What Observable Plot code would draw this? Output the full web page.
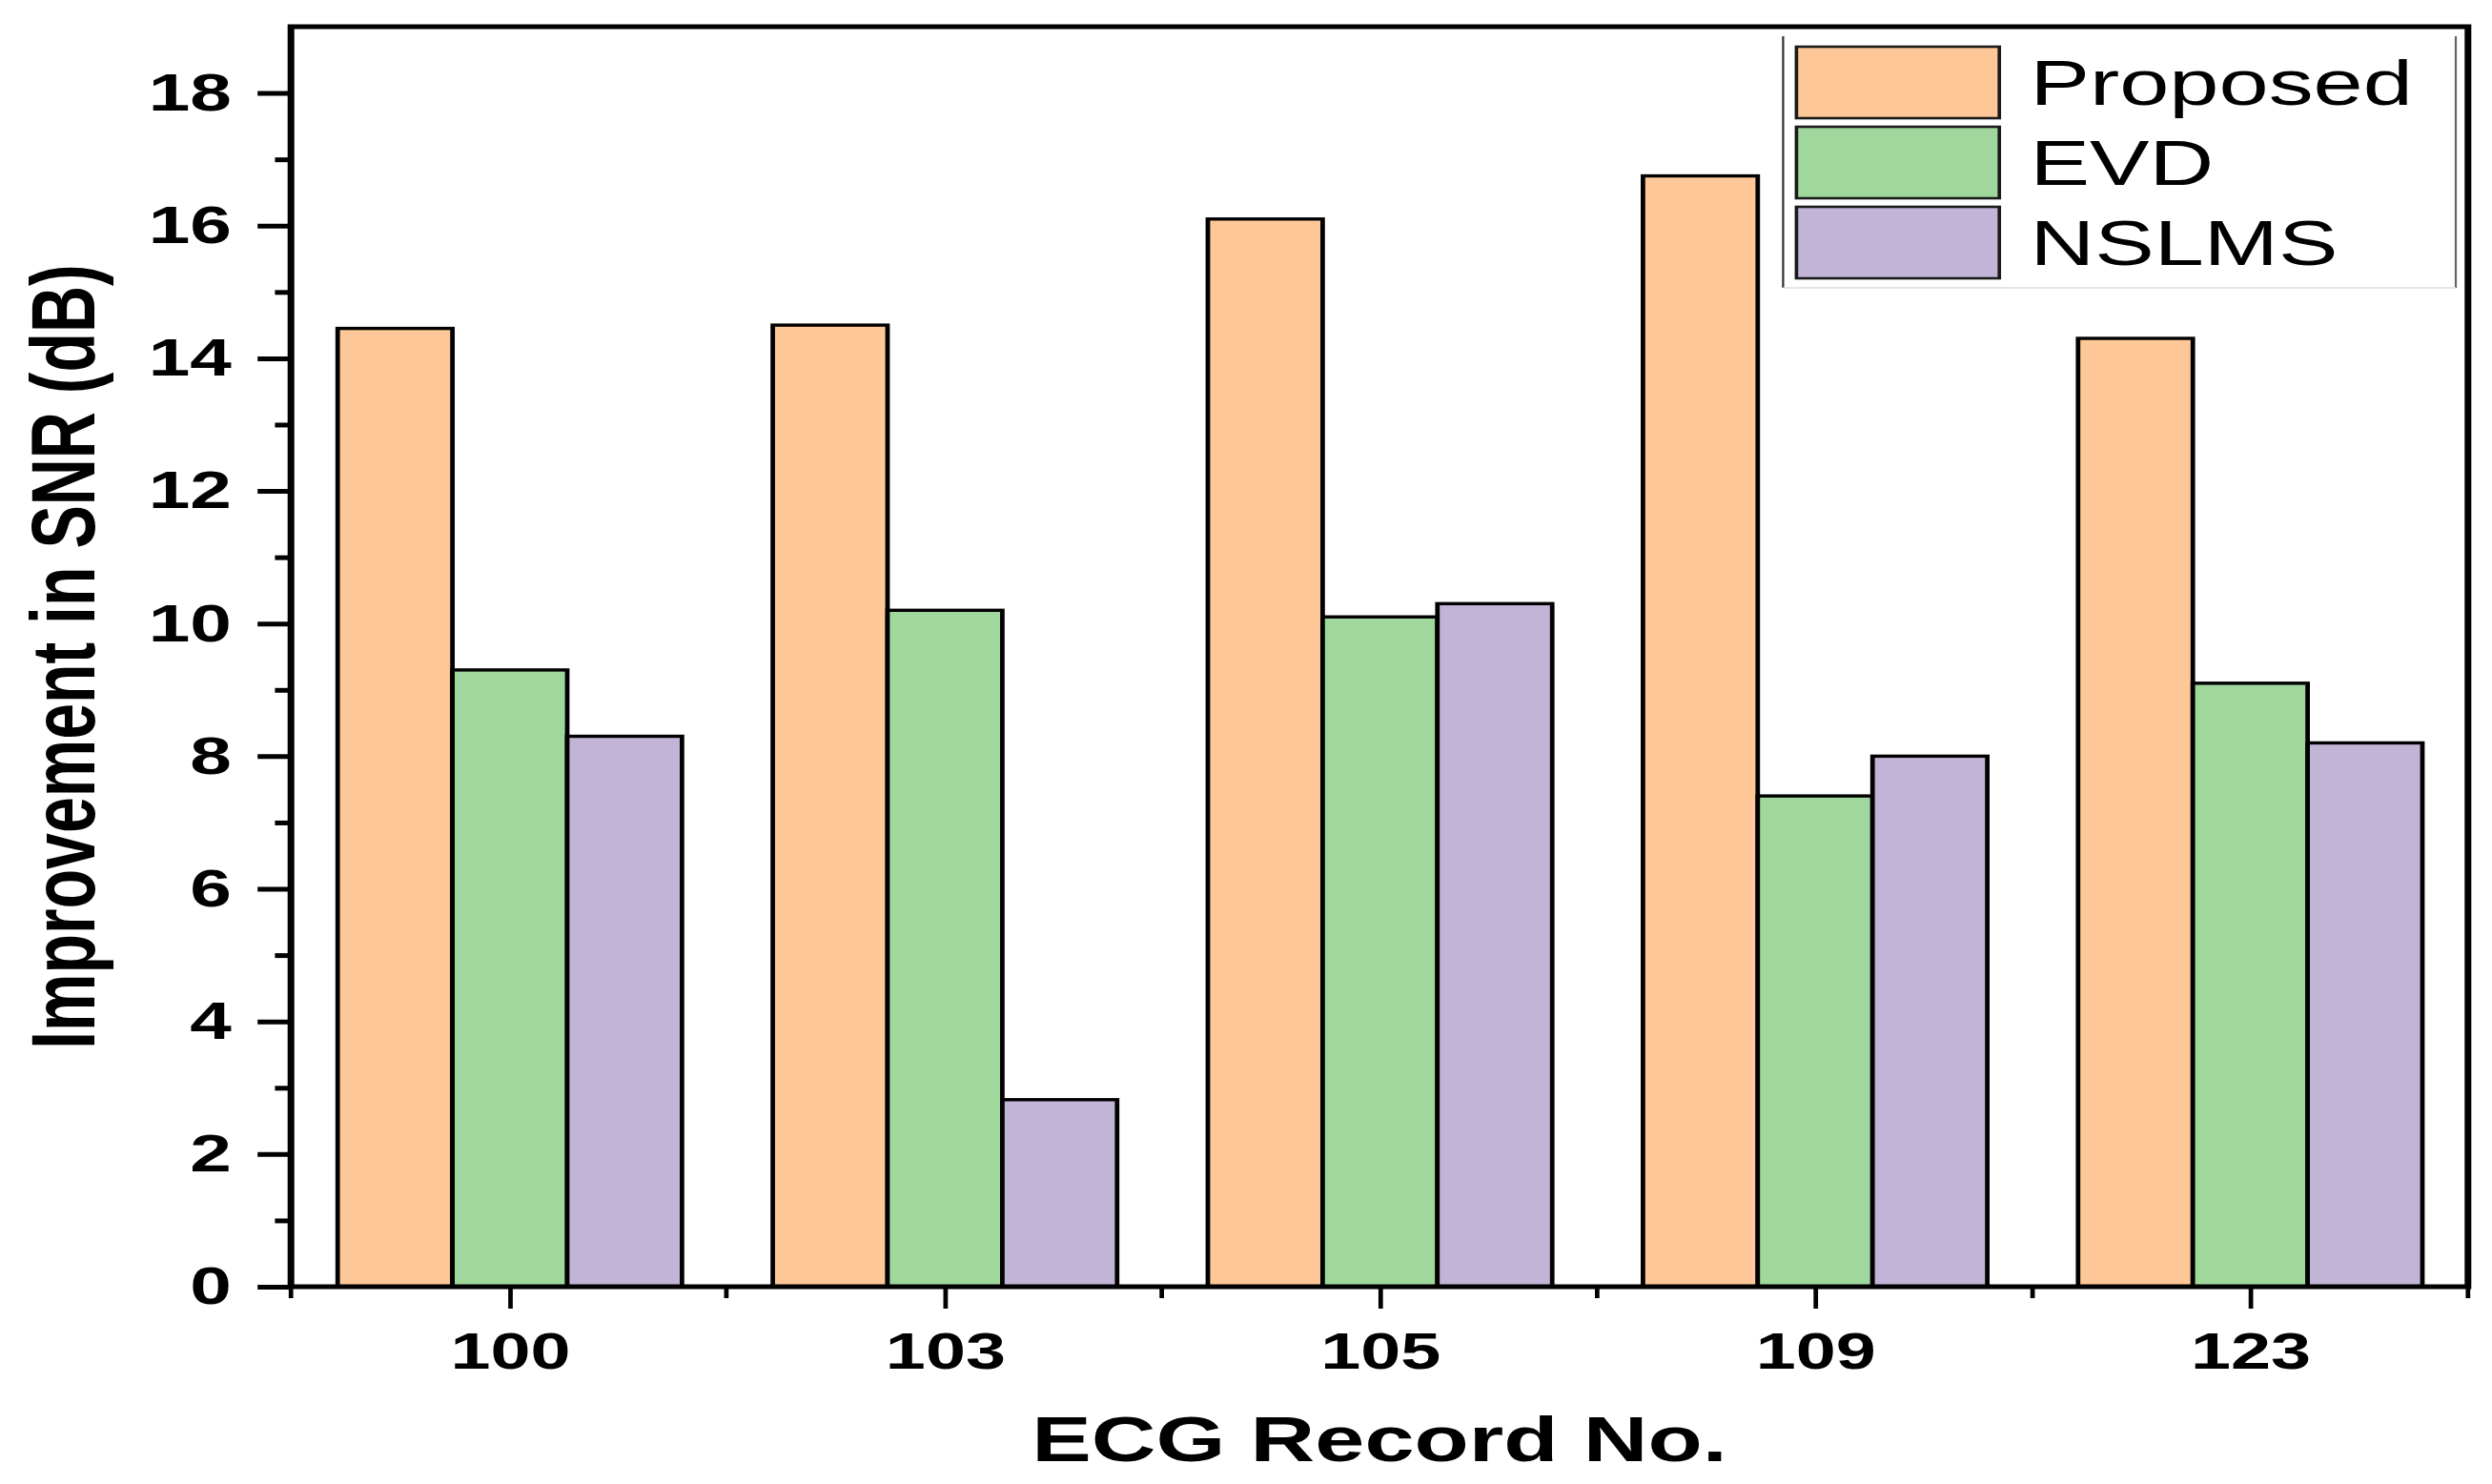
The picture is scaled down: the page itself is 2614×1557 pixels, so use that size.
<!DOCTYPE html>
<html><head><meta charset="utf-8">
<script src="https://cdn.jsdelivr.net/npm/d3@7"></script>
<script src="https://cdn.jsdelivr.net/npm/@observablehq/plot@0.6"></script>
<style>
html,body{margin:0;padding:0;background:#fff;}
#chart svg{display:block;}
</style></head><body><div id="chart"></div>
<script>
// ---- data ----
const records = ["100", "103", "105", "109", "123"];
const methods = ["Proposed", "EVD", "NSLMS"];
const proposed = [14.45, 14.5, 16.1, 16.75, 14.3];
const evd = [9.3, 10.2, 10.1, 7.4, 9.1];
const nslms = [8.3, 2.82, 10.3, 8.0, 8.2];
const colors = ["#FDC797", "#9FD79C", "#C2B4D6"];
const yMajor = [0, 2, 4, 6, 8, 10, 12, 14, 16, 18];
const yMinor = [1, 3, 5, 7, 9, 11, 13, 15, 17];
const xTitle = "ECG Record No.";
const yTitle = "Improvement in SNR (dB)";

const series = [proposed, evd, nslms];
const data = records.flatMap((r, i) => methods.map((m, j) => ({record: r, method: m, value: series[j][i]})));

// ---- layout ----
const W = 2614, H = 1557, K = 1.4;   // reference is stretched horizontally
const w = W / K;
const mL = 218, mR = 18, mT = 28, mB = 207;
const font = "'Liberation Sans', Arial, Helvetica, sans-serif";

const chart = Plot.plot({
  width: w, height: H,
  marginLeft: mL, marginRight: mR, marginTop: mT, marginBottom: mB,
  style: {fontFamily: font, background: "white", color: "black", overflow: "visible"},
  fx: {domain: records, padding: 0, paddingInner: 0, paddingOuter: 0, label: null},
  x: {domain: methods, paddingInner: 0, paddingOuter: 0.375, axis: null},
  y: {domain: [0, 19], label: null},
  color: {domain: methods, range: colors},
  marks: [
    Plot.barY(data, {fx: "record", x: "method", y: "value", fill: "method", stroke: "#000", strokeWidth: 3.4}),
    Plot.axisY({ticks: yMajor, tickSize: 26, tickPadding: 20, strokeWidth: 5, fontSize: 56, fontWeight: "bold", label: null, tickFormat: d => String(d), facetAnchor: "left"}),
    Plot.axisY({ticks: yMinor, tickSize: 13, strokeWidth: 5, tickFormat: () => "", label: null, facetAnchor: "left"}),
    Plot.axisFx({anchor: "bottom", tickSize: 23, tickPadding: 24, strokeWidth: 3.4, fontSize: 54, fontWeight: "bold", label: null})
  ]
});

const svg = d3.select(chart);
svg.attr("width", W).attr("height", H)
   .attr("viewBox", `0 0 ${w} ${H}`)
   .attr("preserveAspectRatio", "none");

// frame
svg.append("rect")
  .attr("x", mL).attr("y", mT)
  .attr("width", w - mL - mR).attr("height", H - mT - mB)
  .attr("fill", "none").attr("stroke", "#000").attr("stroke-width", 5);

// boundary ticks between record groups (from the fx scale)
const fxs = chart.scale("fx");
const band = d3.scaleBand().domain(fxs.domain).range(fxs.range).paddingInner(0).paddingOuter(0);
const edges = fxs.domain.map(d => band(d)).concat([band(fxs.domain[fxs.domain.length - 1]) + band.bandwidth()]);
svg.append("g").selectAll("line").data(edges).join("line")
  .attr("x1", d => d).attr("x2", d => d)
  .attr("y1", H - mB).attr("y2", H - mB + 12)
  .attr("stroke", "#000").attr("stroke-width", 3.4);

// axis titles
svg.append("text")
  .attr("transform", `translate(71,689) rotate(-90)`)
  .attr("text-anchor", "middle")
  .attr("font-family", font).attr("font-weight", "bold").attr("font-size", 68)
  .attr("fill", "#000").text(yTitle);
svg.append("text")
  .attr("x", (mL + w - mR) / 2).attr("y", 1533)
  .attr("text-anchor", "middle")
  .attr("font-family", font).attr("font-weight", "bold").attr("font-size", 67)
  .attr("fill", "#000").text(xTitle);

// legend
const color = chart.scale("color");
const lg = svg.append("g").attr("text-anchor", "start");
lg.append("rect").attr("x", 1336).attr("y", 36).attr("width", 1840 - 1336).attr("height", 302 - 36)
  .attr("fill", "white").attr("stroke", "none");
lg.append("line").attr("x1", 1336).attr("x2", 1336).attr("y1", 38).attr("y2", 302).attr("stroke", "#333").attr("stroke-width", 1.6);
lg.append("line").attr("x1", 1840).attr("x2", 1840).attr("y1", 38).attr("y2", 302).attr("stroke", "#666").attr("stroke-width", 1.6);
lg.append("line").attr("x1", 1336).attr("x2", 1840).attr("y1", 302).attr("y2", 302).attr("stroke", "#ddd").attr("stroke-width", 1.5);
const items = lg.selectAll("g.item").data(color.domain).join("g").attr("class", "item")
  .attr("transform", (d, i) => `translate(0,${i * 84})`);
items.append("rect").attr("x", 1346).attr("y", 49).attr("width", 152).attr("height", 75)
  .attr("fill", d => color.apply(d)).attr("stroke", "#1a1a1a").attr("stroke-width", 2.6);
items.append("text").attr("x", 1521).attr("y", 110).attr("text-anchor", "start")
  .attr("font-family", font).attr("font-size", 67).attr("fill", "#000").text(d => d);

document.getElementById("chart").appendChild(chart);
</script></body></html>
